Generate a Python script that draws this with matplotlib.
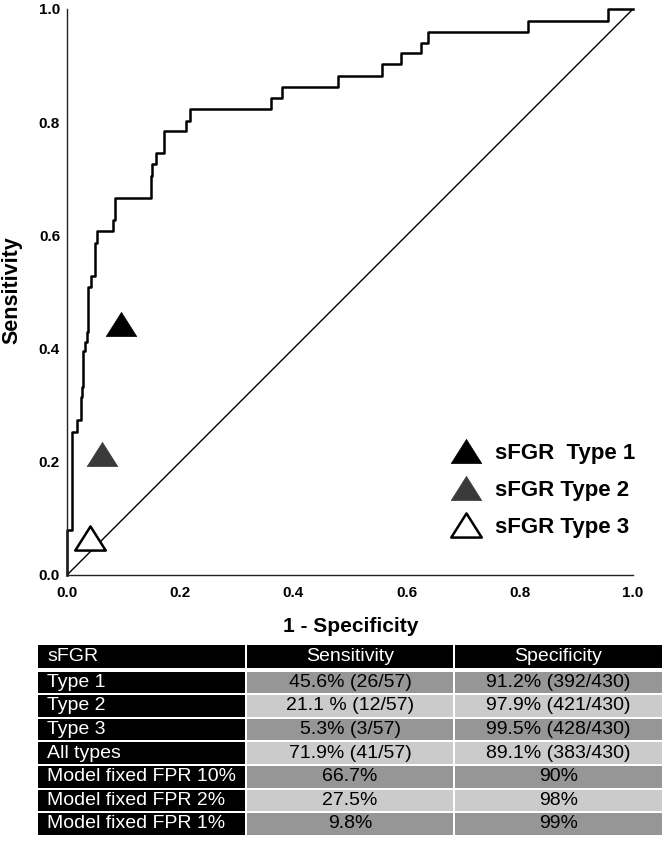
import numpy as np
import matplotlib
matplotlib.use('Agg')
import matplotlib.pyplot as plt
from matplotlib.path import Path
from matplotlib.patches import Rectangle

plt.rcParams['font.family'] = ['Liberation Sans', 'DejaVu Sans']

# ROC curve corner points
fpr = [0.0, 0.0, 0.0097, 0.0097, 0.0171, 0.0171, 0.0242, 0.0242, 0.0265, 0.0265,
       0.0277, 0.0277, 0.0318, 0.0318, 0.0359, 0.0359, 0.0376, 0.0376, 0.0419, 0.0419,
       0.0495, 0.0495, 0.0525, 0.0525, 0.0807, 0.0807, 0.0848, 0.0848, 0.148, 0.148,
       0.150, 0.150, 0.157, 0.157, 0.171, 0.171, 0.211, 0.211, 0.217, 0.217,
       0.360, 0.360, 0.380, 0.380, 0.478, 0.478, 0.556, 0.556, 0.590, 0.590,
       0.625, 0.625, 0.637, 0.637, 0.814, 0.814, 0.956, 0.956, 1.0]
tpr = [0.0, 0.0795, 0.0795, 0.253, 0.253, 0.274, 0.274, 0.315, 0.315, 0.333,
       0.333, 0.395, 0.395, 0.412, 0.412, 0.430, 0.430, 0.509, 0.509, 0.528,
       0.528, 0.587, 0.587, 0.608, 0.608, 0.627, 0.627, 0.666, 0.666, 0.705,
       0.705, 0.726, 0.726, 0.745, 0.745, 0.784, 0.784, 0.803, 0.803, 0.824,
       0.824, 0.843, 0.843, 0.863, 0.863, 0.882, 0.882, 0.902, 0.902, 0.922,
       0.922, 0.940, 0.940, 0.960, 0.960, 0.979, 0.979, 1.0, 1.0]

# sFGR type operating points
type_labels = ['sFGR  Type 1', 'sFGR Type 2', 'sFGR Type 3']
type_fpr = [0.096, 0.062, 0.041]
type_tpr = [0.444, 0.214, 0.066]

ticks = [0.0, 0.2, 0.4, 0.6, 0.8, 1.0]

# table contents
header = ['sFGR', 'Sensitivity', 'Specificity']
row_names = ['Type 1', 'Type 2', 'Type 3', 'All types',
             'Model fixed FPR 10%', 'Model fixed FPR 2%', 'Model fixed FPR 1%']
sens_text = ['45.6% (26/57)', '21.1 % (12/57)', '5.3% (3/57)', '71.9% (41/57)',
             '66.7%', '27.5%', '9.8%']
spec_text = ['91.2% (392/430)', '97.9% (421/430)', '99.5% (428/430)', '89.1% (383/430)',
             '90%', '98%', '99%']

fig = plt.figure(figsize=(6.65, 8.42), dpi=100)
ax = fig.add_axes([67 / 665, 1 - 575 / 842, 566 / 665, 566 / 842])

ax.plot([0, 1], [0, 1], color='black', lw=1.0)
ax.plot(fpr, tpr, color='black', lw=1.8, clip_on=False)

tri = Path([(-1, -0.79), (1, -0.79), (0, 0.79), (-1, -0.79)],
           [Path.MOVETO, Path.LINETO, Path.LINETO, Path.CLOSEPOLY])
faces = ['black', '#3a3a3a', 'white']
edges = ['black', '#3a3a3a', 'black']
ews = [0.5, 0.5, 1.8]
handles = []
for i in range(3):
    h, = ax.plot(type_fpr[i], type_tpr[i], marker=tri, markersize=22, linestyle='none',
                 mfc=faces[i], mec=edges[i], mew=ews[i], label=type_labels[i], clip_on=False)
    handles.append(h)

ax.legend(handles=handles, loc='upper left', bbox_to_anchor=(0.677, 0.233),
          frameon=False, borderpad=0, borderaxespad=0, handlelength=1.4,
          handletextpad=0.6, labelspacing=0.71, numpoints=1,
          prop={'size': 16, 'weight': 'bold'})

ax.set_xlim(0, 1)
ax.set_ylim(0, 1)
ax.set_xticks(ticks)
ax.set_yticks(ticks)
ax.set_xticklabels(['%.1f' % t for t in ticks], fontweight='bold')
ax.set_yticklabels(['%.1f' % t for t in ticks], fontweight='bold')
ax.tick_params(axis='x', length=0, labelsize=11, pad=8)
ax.tick_params(axis='y', length=0, labelsize=11, pad=5)
for s in ['top', 'right']:
    ax.spines[s].set_visible(False)
for s in ['left', 'bottom']:
    ax.spines[s].set_linewidth(1.0)
    ax.spines[s].set_color('#222222')

fig.text(12 / 665, 1 - 290 / 842, 'Sensitivity', rotation=90, ha='center', va='center',
         fontsize=15.5, fontweight='bold')
fig.text(351 / 665, 1 - 626 / 842, '1 - Specificity', ha='center', va='center',
         fontsize=15, fontweight='bold')

# table drawn in figure pixel coordinates
tax = fig.add_axes([0, 0, 1, 1])
tax.set_xlim(0, 665)
tax.set_ylim(842, 0)
tax.axis('off')

col_edges = [38, 246, 454, 662]
dark, light = '#969696', '#cbcbcb'


def draw_row(top, height, texts, colours, text_colours):
    for j in range(3):
        x0 = col_edges[j] + (1 if j > 0 else 0)
        x1 = col_edges[j + 1] - (1 if j < 2 else 0)
        tax.add_patch(Rectangle((x0, top), x1 - x0, height, facecolor=colours[j],
                                edgecolor='none'))
        yc = top + height / 2
        if j == 0:
            tax.text(x0 + 9, yc, texts[j], ha='left', va='center', fontsize=14,
                     color=text_colours[j])
        else:
            tax.text((x0 + x1) / 2, yc, texts[j], ha='center', va='center', fontsize=14,
                     color=text_colours[j])


draw_row(645, 22.5, header, ['black'] * 3, ['white'] * 3)
pitch = 23.6
for i in range(len(row_names)):
    c = dark if i % 2 == 0 else light
    draw_row(671.5 + i * pitch, pitch - 2, [row_names[i], sens_text[i], spec_text[i]],
             ['black', c, c], ['white', 'black', 'black'])

fig.savefig('out.png', dpi=100)
